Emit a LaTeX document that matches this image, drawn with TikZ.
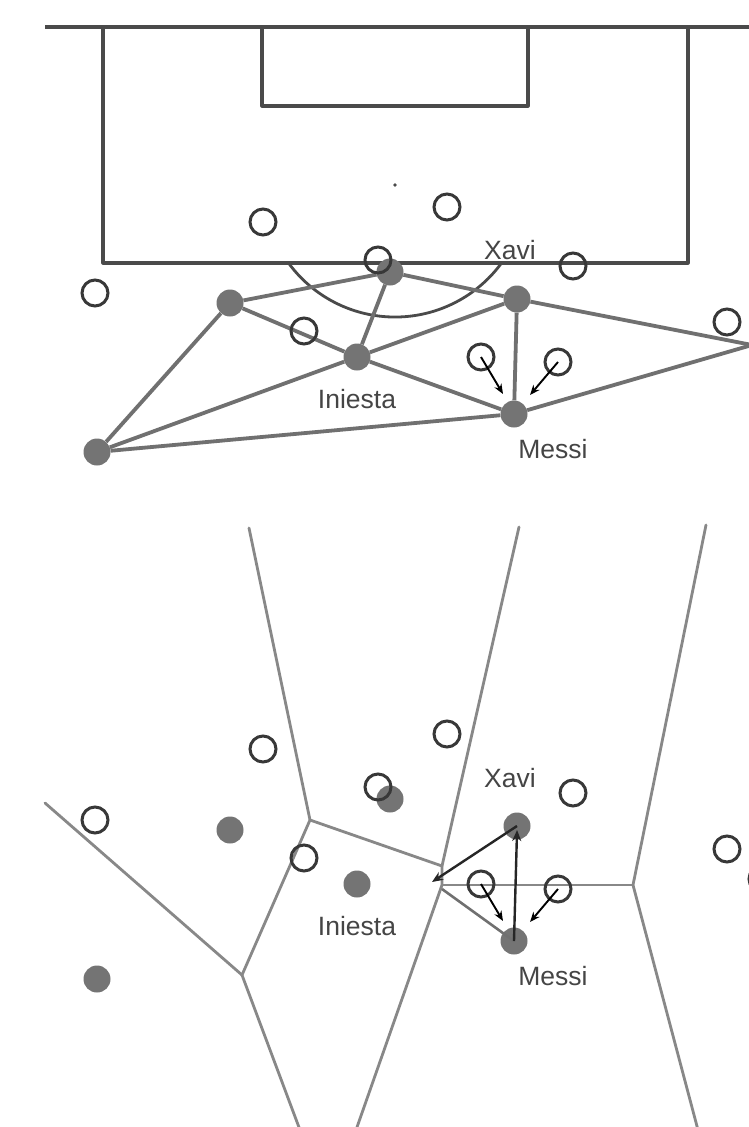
\documentclass[tikz,border=0pt]{standalone}
\usepackage{fontspec}
\setmainfont{Liberation Sans}
\usetikzlibrary{arrows.meta,calc}
\definecolor{boxline}{HTML}{4A4A4A}
\definecolor{edgegray}{HTML}{707070}
\definecolor{dotgray}{HTML}{747474}
\definecolor{ringgray}{HTML}{383838}
\definecolor{vorgray}{HTML}{888888}
\definecolor{labelgray}{HTML}{454545}
\tikzset{
  pitch/.style={draw=boxline,line width=3.2pt,line join=round},
  edgeline/.style={draw=edgegray,line width=3.8pt},
  vorline/.style={draw=vorgray,line width=2.8pt,line cap=round},
  mate/.style={circle,fill=dotgray,minimum size=27pt,inner sep=0pt},
  rival/.style={circle,draw=ringgray,line width=3pt,minimum size=26pt,inner sep=0pt},
  runarrow/.style={draw=black,line width=1.9pt,-{Stealth[length=10pt,width=8pt]}},
  passarrow/.style={draw=black!85,line width=2.4pt,-{Stealth[length=11pt,width=9pt]}},
  plabel/.style={text=labelgray,font=\fontsize{26.5}{31}\selectfont,inner sep=0pt}
}
\begin{document}
\begin{tikzpicture}[x=1pt,y=-1pt]
\useasboundingbox (0,0) rectangle (749,1127);
\fill[white] (0,0) rectangle (749,1127);

% ---------- top: pitch ----------
\coordinate (tl) at (45,27);
\coordinate (tr) at (760,27);
\draw[pitch] (tl) -- (tr);
\draw[pitch] (103,27) -- (103,263) -- (688,263) -- (688,27);
\draw[pitch] (262,27) -- (262,106) -- (528,106) -- (528,27);
\fill[boxline] (395,185) circle (1.8pt);
\draw[pitch,line width=2.8pt] (288.5,263) arc[start angle=216.2,end angle=323.8,radius=132pt];

% ---------- top: players ----------
\node[mate] (A) at (230,303) {};
\node[mate] (B) at (390,272) {};
\node[mate] (I) at (357,357) {};
\node[mate] (X) at (517,299) {};
\node[mate] (M) at (514,414) {};
\node[mate] (L) at (97,452) {};
\coordinate (R) at (752,345);

\draw[edgeline] (A) -- (B);
\draw[edgeline] (A) -- (I);
\draw[edgeline] (A) -- (L);
\draw[edgeline] (B) -- (I);
\draw[edgeline] (B) -- (X);
\draw[edgeline] (I) -- (X);
\draw[edgeline] (I) -- (M);
\draw[edgeline] (L) -- (I);
\draw[edgeline] (L) -- (M);
\draw[edgeline] (X) -- (M);
\draw[edgeline] (X) -- (R);
\draw[edgeline] (M) -- (R);

\node[rival] (o1) at (263,222) {};
\node[rival] (o2) at (447,207) {};
\node[rival] (o3) at (95,293) {};
\node[rival] (o4) at (378,260) {};
\node[rival] (o5) at (573,266) {};
\node[rival] (o6) at (304,331) {};
\node[rival] (o7) at (727,322) {};
\node[rival] (o8) at (481,357) {};
\node[rival] (o9) at (558,362) {};
\coordinate (e8) at (503,394);
\coordinate (e9) at (530,395);
\draw[runarrow] (o8.center) -- (e8);
\draw[runarrow] (o9.center) -- (e9);

\node[plabel] (lX) at (510,250) {Xavi};
\node[plabel] (lI) at (357,399) {Iniesta};
\node[plabel] (lM) at (553,449) {Messi};

% ---------- bottom: Voronoi cells ----------
\coordinate (v1) at (310,820);
\coordinate (v2) at (242,975);
\coordinate (v3) at (442,866);
\coordinate (v4) at (442,885);
\coordinate (v5) at (633,885);
\coordinate (p1) at (249,528);
\coordinate (p2) at (45,803);
\coordinate (p3) at (300,1130);
\coordinate (p4) at (519,527);
\coordinate (p5) at (356,1130);
\coordinate (p6) at (706,525);
\coordinate (p7) at (698,1130);
\draw[vorline] (p1) -- (v1) -- (v2) -- (p3);
\draw[vorline] (p2) -- (v2);
\draw[vorline] (v1) -- (v3);
\draw[vorline] (p4) -- (v3) -- (v4) -- (p5);
\draw[vorline] (v4) -- (v5);
\draw[vorline] (p6) -- (v5) -- (p7);

% ---------- bottom: players ----------
\node[mate] (A2) at (230,830) {};
\node[mate] (B2) at (390,799) {};
\node[mate] (I2) at (357,884) {};
\node[mate] (X2) at (517,826) {};
\node[mate] (M2) at (514,941) {};
\node[mate] (L2) at (97,979) {};

\node[rival] (q1) at (263,749) {};
\node[rival] (q2) at (447,734) {};
\node[rival] (q3) at (95,820) {};
\node[rival] (q4) at (378,787) {};
\node[rival] (q5) at (573,793) {};
\node[rival] (q6) at (304,858) {};
\node[rival] (q7) at (727,849) {};
\node[rival] (q8) at (481,884) {};
\node[rival] (q9) at (558,889) {};
\node[rival] (q10) at (762,879) {};

% pass triangle
\coordinate (S) at (432,882);
\coordinate (S2) at (442,889);
\draw[draw=edgegray,line width=2.6pt] (S2) -- (M2.center);
\draw[passarrow,shorten >=-2pt] (M2.center) -- ($(X2.center)+(0,6)$);
\draw[passarrow] (X2.center) -- (S);

\coordinate (f8) at (503,921);
\coordinate (f9) at (530,922);
\draw[runarrow] (q8.center) -- (f8);
\draw[runarrow] (q9.center) -- (f9);

\node[plabel] (mX) at (510,778) {Xavi};
\node[plabel] (mI) at (357,926) {Iniesta};
\node[plabel] (mM) at (553,976) {Messi};
\end{tikzpicture}
\end{document}
